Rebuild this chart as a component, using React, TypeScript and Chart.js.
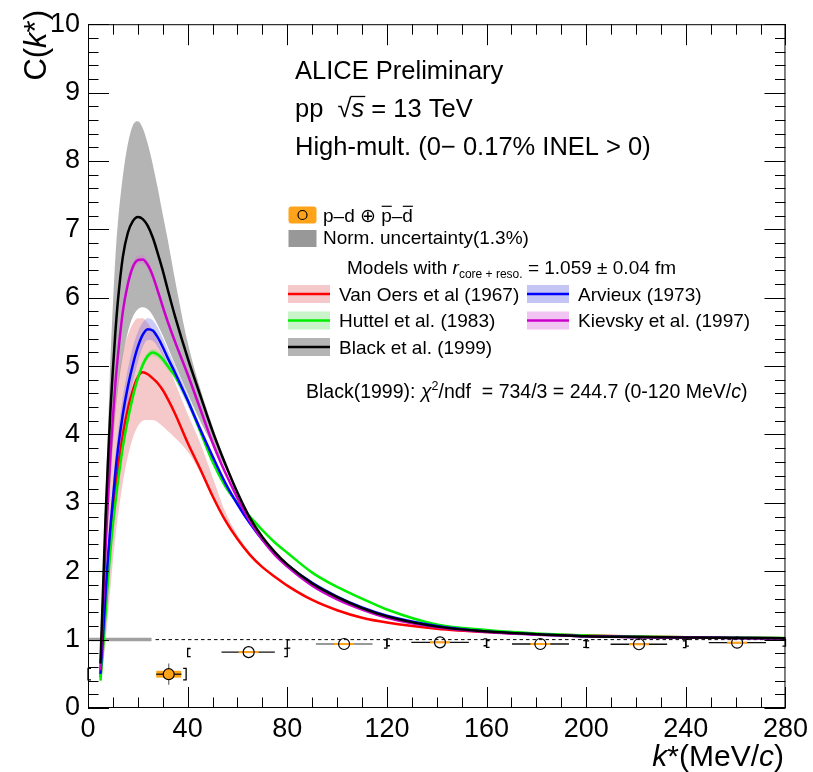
import React, { useEffect, useRef } from 'react';
import { Chart, registerables } from 'chart.js';

Chart.register(...registerables);

// ---------------- data ----------------
const K = [5, 6, 7, 8, 9, 10, 11, 12, 14, 16, 18, 20, 22, 24, 26, 28, 30, 32, 35, 40, 45, 50, 55, 60, 65, 70, 75, 80, 90, 100, 110, 120, 140, 160, 180, 200, 220, 240, 260, 280];

const BLACK = [0.65, 1.7, 2.75, 3.6, 4.35, 4.95, 5.5, 5.95, 6.6, 6.95, 7.12, 7.18, 7.15, 7.05, 6.88, 6.65, 6.4, 6.12, 5.72, 5.12, 4.58, 4.05, 3.58, 3.15, 2.78, 2.5, 2.28, 2.1, 1.82, 1.62, 1.46, 1.34, 1.19, 1.12, 1.08, 1.05, 1.04, 1.03, 1.025, 1.02];
const BLACK_UP = [0.75, 2.0, 3.1, 4.05, 5.1, 5.9, 6.6, 7.1, 7.78, 8.25, 8.52, 8.58, 8.48, 8.25, 7.95, 7.6, 7.22, 6.85, 6.25, 5.35, 4.68, 4.12, 3.62, 3.18, 2.8, 2.52, 2.3, 2.12, 1.84, 1.64, 1.475, 1.35, 1.2, 1.125, 1.085, 1.055, 1.045, 1.035, 1.028, 1.022];
const BLACK_LO = [0.5, 1.2, 2.0, 2.7, 3.3, 3.85, 4.3, 4.65, 5.15, 5.5, 5.72, 5.83, 5.86, 5.83, 5.74, 5.6, 5.45, 5.28, 5.02, 4.6, 4.2, 3.85, 3.52, 3.12, 2.76, 2.48, 2.26, 2.08, 1.8, 1.6, 1.445, 1.33, 1.18, 1.115, 1.075, 1.045, 1.035, 1.025, 1.022, 1.018];

const KIEVSKY = [0.55, 1.45, 2.3, 3.05, 3.7, 4.25, 4.75, 5.15, 5.8, 6.2, 6.45, 6.55, 6.56, 6.48, 6.32, 6.1, 5.87, 5.65, 5.35, 4.88, 4.38, 3.88, 3.45, 3.07, 2.73, 2.46, 2.24, 2.07, 1.79, 1.59, 1.44, 1.32, 1.18, 1.11, 1.07, 1.05, 1.035, 1.03, 1.022, 1.02];
const KIEVSKY_UP = [0.62, 1.53, 2.38, 3.13, 3.78, 4.33, 4.83, 5.23, 5.87, 6.26, 6.51, 6.61, 6.62, 6.54, 6.38, 6.16, 5.93, 5.71, 5.4, 4.92, 4.41, 3.91, 3.47, 3.09, 2.75, 2.47, 2.25, 2.08, 1.8, 1.6, 1.445, 1.325, 1.185, 1.113, 1.073, 1.052, 1.037, 1.032, 1.024, 1.022];
const KIEVSKY_LO = [0.48, 1.37, 2.22, 2.97, 3.62, 4.17, 4.67, 5.07, 5.73, 6.14, 6.39, 6.49, 6.5, 6.42, 6.26, 6.04, 5.81, 5.59, 5.3, 4.84, 4.35, 3.85, 3.43, 3.05, 2.71, 2.45, 2.23, 2.06, 1.78, 1.58, 1.435, 1.315, 1.175, 1.107, 1.067, 1.048, 1.033, 1.028, 1.018, 1.018];

const ARVIEUX = [0.5, 1.05, 1.65, 2.2, 2.65, 3.05, 3.45, 3.78, 4.3, 4.7, 5.02, 5.28, 5.46, 5.54, 5.52, 5.42, 5.28, 5.12, 4.9, 4.5, 4.08, 3.68, 3.3, 2.98, 2.7, 2.46, 2.26, 2.09, 1.83, 1.63, 1.47, 1.35, 1.2, 1.12, 1.08, 1.05, 1.04, 1.03, 1.025, 1.02];
const ARVIEUX_UP = [0.55, 1.15, 1.8, 2.38, 2.85, 3.27, 3.68, 4.02, 4.55, 4.96, 5.28, 5.5, 5.64, 5.7, 5.67, 5.56, 5.41, 5.24, 5.0, 4.58, 4.14, 3.72, 3.33, 3.0, 2.72, 2.47, 2.27, 2.1, 1.84, 1.64, 1.475, 1.355, 1.205, 1.125, 1.085, 1.055, 1.045, 1.035, 1.028, 1.022];
const ARVIEUX_LO = [0.45, 0.95, 1.5, 2.02, 2.45, 2.83, 3.22, 3.54, 4.05, 4.44, 4.76, 5.06, 5.28, 5.38, 5.37, 5.28, 5.15, 5.0, 4.8, 4.42, 4.02, 3.64, 3.27, 2.96, 2.68, 2.45, 2.25, 2.08, 1.82, 1.62, 1.465, 1.345, 1.195, 1.115, 1.075, 1.045, 1.035, 1.025, 1.022, 1.018];

const HUTTEL = [0.4, 0.85, 1.35, 1.85, 2.3, 2.68, 3.0, 3.3, 3.82, 4.22, 4.55, 4.82, 5.02, 5.15, 5.2, 5.17, 5.1, 5.0, 4.85, 4.5, 4.05, 3.6, 3.25, 3.0, 2.8, 2.6, 2.42, 2.27, 1.98, 1.77, 1.6, 1.44, 1.22, 1.14, 1.09, 1.06, 1.045, 1.035, 1.03, 1.025];
const HUTTEL_UP = [0.44, 0.9, 1.41, 1.92, 2.37, 2.75, 3.07, 3.37, 3.89, 4.29, 4.62, 4.88, 5.08, 5.2, 5.25, 5.22, 5.15, 5.05, 4.89, 4.54, 4.08, 3.63, 3.27, 3.02, 2.82, 2.61, 2.43, 2.28, 1.99, 1.78, 1.605, 1.445, 1.225, 1.142, 1.092, 1.062, 1.047, 1.037, 1.032, 1.027];
const HUTTEL_LO = [0.36, 0.8, 1.29, 1.78, 2.23, 2.61, 2.93, 3.23, 3.75, 4.15, 4.48, 4.76, 4.96, 5.1, 5.15, 5.12, 5.05, 4.95, 4.81, 4.46, 4.02, 3.57, 3.23, 2.98, 2.78, 2.59, 2.41, 2.26, 1.97, 1.76, 1.595, 1.435, 1.215, 1.138, 1.088, 1.058, 1.043, 1.033, 1.028, 1.023];

const VANOERS = [0.45, 0.95, 1.5, 2.0, 2.45, 2.85, 3.2, 3.5, 4.0, 4.38, 4.65, 4.84, 4.91, 4.88, 4.82, 4.75, 4.65, 4.52, 4.3, 3.88, 3.5, 3.1, 2.75, 2.47, 2.24, 2.06, 1.92, 1.79, 1.58, 1.43, 1.32, 1.25, 1.16, 1.11, 1.08, 1.06, 1.045, 1.035, 1.028, 1.02];
const VANOERS_UP = [0.6, 1.4, 2.25, 2.95, 3.55, 4.05, 4.45, 4.78, 5.2, 5.45, 5.62, 5.7, 5.7, 5.63, 5.52, 5.37, 5.2, 5.03, 4.75, 4.3, 3.88, 3.38, 2.88, 2.53, 2.27, 2.08, 1.93, 1.8, 1.59, 1.44, 1.325, 1.255, 1.163, 1.113, 1.082, 1.062, 1.047, 1.037, 1.03, 1.022];
const VANOERS_LO = [0.35, 0.6, 0.95, 1.35, 1.75, 2.15, 2.5, 2.8, 3.3, 3.68, 3.95, 4.12, 4.2, 4.21, 4.21, 4.18, 4.12, 4.05, 3.95, 3.75, 3.45, 3.07, 2.72, 2.45, 2.22, 2.05, 1.91, 1.78, 1.57, 1.42, 1.315, 1.245, 1.157, 1.107, 1.078, 1.058, 1.043, 1.033, 1.026, 1.018];

// measured p-d correlation
const DATA_K = [32.4, 64.5, 102.8, 141.3, 181.6, 221.2, 260.6];
const DATA_C = [0.494, 0.817, 0.936, 0.96, 0.936, 0.932, 0.955];
const DATA_K_LO = [27.5, 53.6, 91.5, 129.8, 170.2, 209.8, 249.2];
const DATA_K_HI = [37.5, 75.0, 114.2, 152.9, 193.1, 232.5, 272.2];
const DATA_STAT = [0.155, 0.01, 0.01, 0.01, 0.01, 0.01, 0.01];
const SYST_K = [5, 4, 4, 4, 4, 4, 4];
const SYST_C = [0.05, 0.015, 0.015, 0.015, 0.015, 0.015, 0.015];
// bracket markers at bin edges
const BIN_LO = [0, 40, 80, 120, 160, 200, 240];
const BIN_HI = [39.4, 80, 120, 160, 200, 240, 280];
const BIN_SYS_LO = [0.41, 0.75, 0.876, 0.91, 0.886, 0.882, 0.905];
const BIN_SYS_HI = [0.58, 0.87, 0.996, 1.01, 0.986, 0.982, 1.005];

const NORM_K = [0, 25.5];
const NORM_C = 1;

const X_TICKS = [0, 40, 80, 120, 160, 200, 240, 280];
const Y_TICKS = [0, 1, 2, 3, 4, 5, 6, 7, 8, 9, 10];

// ---------------- styling ----------------
const FONT = "'Liberation Sans', 'DejaVu Sans', Arial, sans-serif";
const ORANGE = 'rgb(255,163,26)';

type Part = { t: string; size: number; italic?: boolean; dy?: number; over?: boolean };

function partsWidth(ctx: CanvasRenderingContext2D, parts: Part[]) {
  let w = 0;
  for (const p of parts) {
    ctx.font = `${p.italic ? 'italic ' : ''}${p.size}px ${FONT}`;
    w += ctx.measureText(p.t).width;
  }
  return w;
}

function drawParts(ctx: CanvasRenderingContext2D, x: number, y: number, parts: Part[]) {
  let cx = x;
  for (const p of parts) {
    ctx.font = `${p.italic ? 'italic ' : ''}${p.size}px ${FONT}`;
    const w = ctx.measureText(p.t).width;
    ctx.fillText(p.t, cx, y + (p.dy || 0));
    if (p.over) {
      ctx.save();
      ctx.lineWidth = 1.2;
      ctx.strokeStyle = '#000';
      ctx.beginPath();
      const oy = y + (p.dy || 0) - p.size * 0.8;
      ctx.moveTo(cx + 0.5, oy);
      ctx.lineTo(cx + w, oy);
      ctx.stroke();
      ctx.restore();
    }
    cx += w;
  }
  return cx;
}

const pts = (ys: number[]) => K.map((k, i) => ({ x: k, y: ys[i] }));

function band(up: number[], lo: number[], color: string, order: number) {
  return [
    { data: pts(up), borderWidth: 0, pointRadius: 0, fill: '+1', backgroundColor: color, order, cubicInterpolationMode: 'monotone' },
    { data: pts(lo), borderWidth: 0, pointRadius: 0, fill: false, backgroundColor: color, order, cubicInterpolationMode: 'monotone' },
  ];
}

function curve(ys: number[], color: string, order: number) {
  return { data: pts(ys), borderColor: color, borderWidth: 2.5, pointRadius: 0, fill: false, order, cubicInterpolationMode: 'monotone' };
}

const POINTS_INDEX = 15;

const decorPlugin = {
  id: 'decor',
  beforeDraw(chart: any) {
    const ctx = chart.ctx as CanvasRenderingContext2D;
    ctx.save();
    ctx.fillStyle = '#fff';
    ctx.fillRect(0, 0, chart.width, chart.height);
    ctx.restore();
  },
  beforeDatasetsDraw(chart: any) {
    const ctx = chart.ctx as CanvasRenderingContext2D;
    const xs = chart.scales.x, ys = chart.scales.y;
    const y1 = ys.getPixelForValue(NORM_C);
    ctx.save();
    ctx.strokeStyle = 'rgb(160,160,160)';
    ctx.lineWidth = 3.5;
    ctx.beginPath();
    ctx.moveTo(xs.getPixelForValue(NORM_K[0]), y1);
    ctx.lineTo(xs.getPixelForValue(NORM_K[1]), y1);
    ctx.stroke();
    ctx.strokeStyle = '#000';
    ctx.lineWidth = 1;
    ctx.setLineDash([3.5, 3]);
    ctx.beginPath();
    ctx.moveTo(xs.getPixelForValue(NORM_K[1]) + 4, y1);
    ctx.lineTo(xs.getPixelForValue(280), y1);
    ctx.stroke();
    ctx.restore();
  },
  beforeDatasetDraw(chart: any, args: any) {
    if (args.index !== POINTS_INDEX) return;
    const ctx = chart.ctx as CanvasRenderingContext2D;
    const xs = chart.scales.x, ys = chart.scales.y;
    ctx.save();
    // brackets
    ctx.strokeStyle = '#000';
    ctx.lineWidth = 1.3;
    for (let i = 0; i < BIN_LO.length; i++) {
      const yt = ys.getPixelForValue(BIN_SYS_HI[i]);
      const yb = ys.getPixelForValue(BIN_SYS_LO[i]);
      const xl = xs.getPixelForValue(BIN_LO[i]);
      const xr = xs.getPixelForValue(BIN_HI[i]);
      ctx.beginPath();
      ctx.moveTo(xl + 3, yt); ctx.lineTo(xl, yt); ctx.lineTo(xl, yb); ctx.lineTo(xl + 3, yb);
      ctx.moveTo(xr - 3, yt); ctx.lineTo(xr, yt); ctx.lineTo(xr, yb); ctx.lineTo(xr - 3, yb);
      ctx.stroke();
    }
    for (let i = 0; i < DATA_K.length; i++) {
      const px = xs.getPixelForValue(DATA_K[i]);
      const py = ys.getPixelForValue(DATA_C[i]);
      ctx.strokeStyle = i === 2 ? '#777' : '#111';
      ctx.lineWidth = 1.3;
      ctx.beginPath();
      ctx.moveTo(xs.getPixelForValue(DATA_K_LO[i]), py);
      ctx.lineTo(xs.getPixelForValue(DATA_K_HI[i]), py);
      ctx.stroke();
      ctx.strokeStyle = '#777';
      ctx.beginPath();
      ctx.moveTo(px, ys.getPixelForValue(DATA_C[i] + DATA_STAT[i]));
      ctx.lineTo(px, ys.getPixelForValue(DATA_C[i] - DATA_STAT[i]));
      ctx.stroke();
      ctx.fillStyle = ORANGE;
      const bx0 = xs.getPixelForValue(DATA_K[i] - SYST_K[i]);
      const bx1 = xs.getPixelForValue(DATA_K[i] + SYST_K[i]);
      const by0 = ys.getPixelForValue(DATA_C[i] + SYST_C[i]);
      const by1 = ys.getPixelForValue(DATA_C[i] - SYST_C[i]);
      ctx.fillRect(bx0, by0, bx1 - bx0, by1 - by0);
      if (i === 0) {
        ctx.strokeStyle = '#111';
        ctx.beginPath();
        ctx.moveTo(bx0, py); ctx.lineTo(bx1, py);
        ctx.stroke();
      }
    }
    ctx.restore();
  },
  afterDraw(chart: any) {
    const ctx = chart.ctx as CanvasRenderingContext2D;
    const xs = chart.scales.x, ys = chart.scales.y;
    const a = chart.chartArea;
    ctx.save();
    ctx.strokeStyle = '#000';
    ctx.lineWidth = 1;
    ctx.strokeRect(a.left + 0.5, a.top + 0.5, a.right - a.left - 1, a.bottom - a.top - 1);
    ctx.beginPath();
    for (let v = 0; v <= 280; v += 10) {
      const x = Math.round(xs.getPixelForValue(v)) + 0.5;
      const len = v % 40 === 0 ? 21 : 10.5;
      ctx.moveTo(x, a.bottom); ctx.lineTo(x, a.bottom - len);
      ctx.moveTo(x, a.top); ctx.lineTo(x, a.top + len);
    }
    for (let j = 0; j <= 50; j++) {
      const v = j * 0.2;
      const y = Math.round(ys.getPixelForValue(v)) + 0.5;
      const len = j % 5 === 0 ? 21 : 10.5;
      ctx.moveTo(a.left, y); ctx.lineTo(a.left + len, y);
      ctx.moveTo(a.right, y); ctx.lineTo(a.right - len, y);
    }
    ctx.stroke();

    ctx.fillStyle = '#000';
    ctx.textAlign = 'left';
    ctx.textBaseline = 'alphabetic';

    // axis titles
    const xt: Part[] = [
      { t: 'k', size: 30, italic: true },
      { t: '*(MeV/', size: 30 },
      { t: 'c', size: 30, italic: true },
      { t: ')', size: 30 },
    ];
    drawParts(ctx, 784 - partsWidth(ctx, xt), 766, xt);
    const yt: Part[] = [
      { t: 'C(', size: 31 },
      { t: 'k', size: 31, italic: true },
      { t: '*)', size: 31 },
    ];
    ctx.save();
    ctx.translate(46, 10);
    ctx.rotate(-Math.PI / 2);
    drawParts(ctx, -partsWidth(ctx, yt), 0, yt);
    ctx.restore();

    // header text
    const HS = 25.5;
    drawParts(ctx, 295, 79, [{ t: 'ALICE Preliminary', size: HS }]);
    let cx = drawParts(ctx, 295, 117, [{ t: 'pp  ', size: HS }]);
    cx = drawParts(ctx, cx, 117, [{ t: '√', size: HS }]);
    const sx = cx;
    cx = drawParts(ctx, cx, 117, [{ t: 's', size: HS, italic: true }]);
    ctx.lineWidth = 1.3;
    ctx.beginPath();
    ctx.moveTo(sx - 1, 117 - 20.5);
    ctx.lineTo(cx + 1, 117 - 20.5);
    ctx.stroke();
    drawParts(ctx, cx, 117, [{ t: ' = 13 TeV', size: HS }]);
    drawParts(ctx, 295, 155, [{ t: 'High-mult. (0\u2212 0.17% INEL > 0)', size: HS }]);

    // legend
    ctx.fillStyle = ORANGE;
    ctx.beginPath();
    (ctx as any).roundRect(288.5, 206.5, 28, 17, 3);
    ctx.fill();
    ctx.strokeStyle = '#000';
    ctx.lineWidth = 1.2;
    ctx.beginPath();
    ctx.arc(302.5, 215, 4.5, 0, Math.PI * 2);
    ctx.stroke();
    ctx.fillStyle = '#000';
    drawParts(ctx, 323, 221.5, [
      { t: 'p\u2013d \u2295 ', size: 19 },
      { t: 'p', size: 19, over: true },
      { t: '\u2013', size: 19 },
      { t: 'd', size: 19, over: true },
    ]);
    ctx.fillStyle = 'rgb(152,152,152)';
    ctx.fillRect(288.5, 230, 28, 17);
    ctx.fillStyle = '#000';
    drawParts(ctx, 323, 244, [{ t: 'Norm. uncertainty(1.3%)', size: 19 }]);

    drawParts(ctx, 347, 273.5, [
      { t: 'Models with ', size: 19 },
      { t: 'r', size: 19, italic: true },
      { t: 'core + reso.', size: 12, dy: 4 },
      { t: ' = 1.059 \u00b1 0.04 fm', size: 19 },
    ]);

    const entries = [
      { x: 288, yc: 294, fill: 'rgba(230,120,120,0.4)', line: '#ff0000', label: 'Van Oers et al (1967)' },
      { x: 527, yc: 294, fill: 'rgba(110,110,230,0.4)', line: '#0000ff', label: 'Arvieux (1973)' },
      { x: 288, yc: 320.5, fill: 'rgba(100,220,100,0.35)', line: '#00ee00', label: 'Huttel et al. (1983)' },
      { x: 527, yc: 320.5, fill: 'rgba(220,110,220,0.4)', line: '#cc00cc', label: 'Kievsky et al. (1997)' },
      { x: 288, yc: 347, fill: 'rgb(180,180,180)', line: '#000000', label: 'Black et al. (1999)' },
    ];
    for (const e of entries) {
      ctx.fillStyle = e.fill;
      ctx.fillRect(e.x, e.yc - 9, 42, 18);
      ctx.strokeStyle = e.line;
      ctx.lineWidth = 2.5;
      ctx.beginPath();
      ctx.moveTo(e.x, e.yc);
      ctx.lineTo(e.x + 42, e.yc);
      ctx.stroke();
      ctx.fillStyle = '#000';
      drawParts(ctx, e.x + 51, e.yc + 6.5, [{ t: e.label, size: 19 }]);
    }

    drawParts(ctx, 306, 397.5, [
      { t: 'Black(1999): ', size: 19.5 },
      { t: '\u03c7', size: 19.5, italic: true },
      { t: '2', size: 12.5, dy: -7.5 },
      { t: '/ndf  = 734/3 = 244.7 (0-120 MeV/', size: 19.5 },
      { t: 'c', size: 19.5, italic: true },
      { t: ')', size: 19.5 },
    ]);
    ctx.restore();
  },
};

export default function App() {
  const ref = useRef<HTMLCanvasElement>(null);
  useEffect(() => {
    const canvas = ref.current;
    if (!canvas) return;
    Chart.defaults.font.family = FONT;
    Chart.defaults.color = '#000';
    const datasets: any[] = [
      ...band(BLACK_UP, BLACK_LO, 'rgb(180,180,180)', 50),
      ...band(VANOERS_UP, VANOERS_LO, 'rgba(230,120,120,0.4)', 45),
      ...band(ARVIEUX_UP, ARVIEUX_LO, 'rgba(110,110,230,0.35)', 44),
      ...band(HUTTEL_UP, HUTTEL_LO, 'rgba(100,220,100,0.35)', 43),
      ...band(KIEVSKY_UP, KIEVSKY_LO, 'rgba(220,110,220,0.35)', 42),
      curve(VANOERS, '#ff0000', 20),
      curve(HUTTEL, '#00ee00', 19),
      curve(ARVIEUX, '#0000ff', 18),
      curve(KIEVSKY, '#cc00cc', 17),
      curve(BLACK, '#000000', 16),
      {
        data: DATA_K.map((k, i) => ({ x: k, y: DATA_C[i] })),
        showLine: false,
        pointRadius: 5.5,
        pointStyle: 'circle',
        pointBackgroundColor: DATA_K.map((_, i) => (i === 0 ? ORANGE : 'rgba(0,0,0,0)')),
        pointBorderColor: '#000',
        pointBorderWidth: 1.2,
        order: 1,
      },
    ];
    const chart = new Chart(canvas, {
      type: 'line',
      data: { datasets },
      plugins: [decorPlugin],
      options: {
        responsive: false,
        maintainAspectRatio: false,
        animation: false,
        devicePixelRatio: 1,
        layout: { padding: { left: 0, top: 14, right: 27, bottom: 0 } },
        plugins: { legend: { display: false }, tooltip: { enabled: false } },
        scales: {
          x: {
            type: 'linear',
            min: 0,
            max: 280,
            afterBuildTicks: (s: any) => { s.ticks = X_TICKS.map((v) => ({ value: v })); },
            afterFit: (s: any) => { s.height = 64; },
            ticks: { padding: 5, font: { size: 27 }, color: '#000', maxRotation: 0, autoSkip: false },
            grid: { display: false, drawTicks: false },
            border: { display: false },
          },
          y: {
            type: 'linear',
            min: 0,
            max: 10,
            afterBuildTicks: (s: any) => { s.ticks = Y_TICKS.map((v) => ({ value: v })); },
            afterFit: (s: any) => { s.width = 88; },
            ticks: { padding: 8, font: { size: 27 }, color: '#000', autoSkip: false },
            grid: { display: false, drawTicks: false },
            border: { display: false },
          },
        },
      } as any,
    });
    return () => chart.destroy();
  }, []);
  return (
    <div style={{ position: 'absolute', left: 0, top: 0, width: 813, height: 772, background: '#fff' }}>
      <canvas ref={ref} width={813} height={772} style={{ display: 'block', width: 813, height: 772 }} />
    </div>
  );
}
